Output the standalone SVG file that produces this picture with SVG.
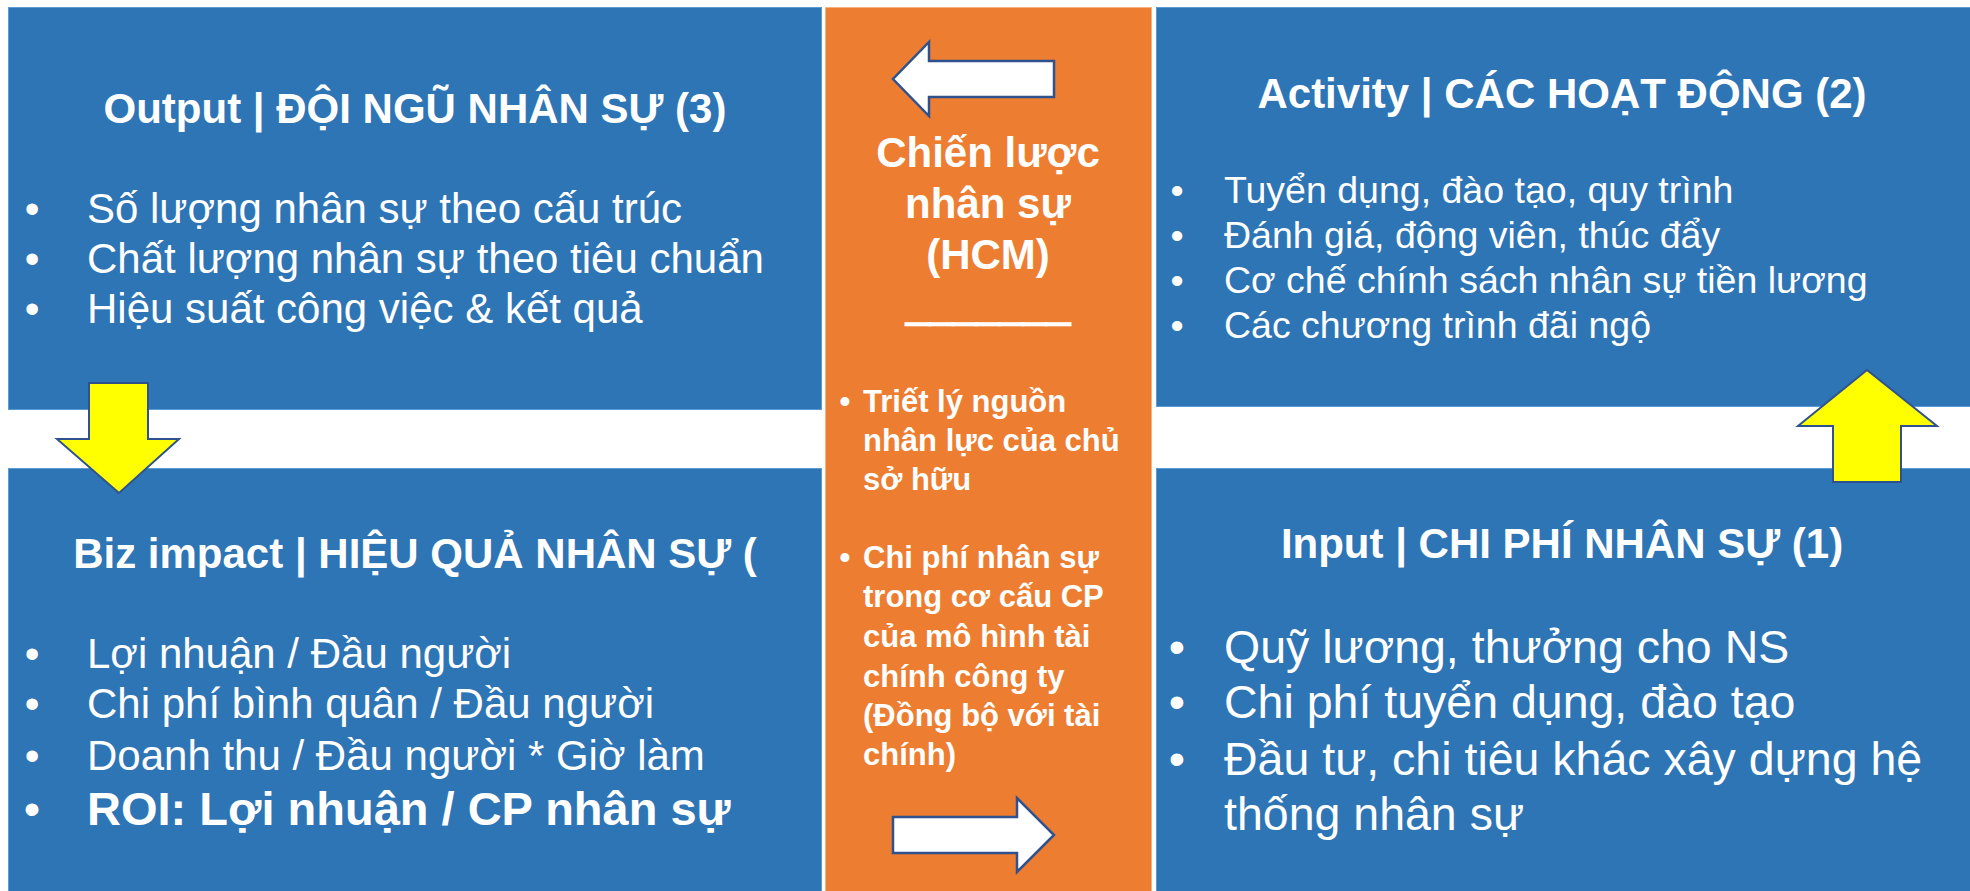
<svg xmlns="http://www.w3.org/2000/svg" width="1970" height="891" viewBox="0 0 1970 891">
<style>
.box{fill:#2E75B6;stroke:#5B9BD5;stroke-width:1}
.mid{fill:#ED7D31;stroke:#F4B183;stroke-width:1}
text{font-family:"Liberation Sans",Arial,sans-serif;fill:#FFFFFF}
.t{font-weight:bold;font-size:42px;text-anchor:middle}
.b{font-size:42px}
.b2{font-size:37.5px}
.b3{font-size:46.5px}
.dot{text-anchor:middle}
.c{font-weight:bold;font-size:42px;text-anchor:middle}
.u{stroke:#FFFFFF;stroke-width:2.5}
.cb{font-weight:bold;font-size:31px}
.ya{fill:#FFFF00;stroke:#2F528F;stroke-width:2}
.wa{fill:#FFFFFF;stroke:#2F528F;stroke-width:2.5}
</style>
<rect width="1970" height="891" fill="#FFFFFF"/>

<g id="output">
<rect class="box" x="8.5" y="7.5" width="813" height="402"/>
<text class="t" x="415" y="123">Output | ĐỘI NGŨ NHÂN SỰ (3)</text>
<text class="b dot" x="32" y="223">•</text><text class="b" x="87" y="223">Số lượng nhân sự theo cấu trúc</text>
<text class="b dot" x="32" y="273">•</text><text class="b" x="87" y="273">Chất lượng nhân sự theo tiêu chuẩn</text>
<text class="b dot" x="32" y="323">•</text><text class="b" x="87" y="323">Hiệu suất công việc &amp; kết quả</text>
</g>

<g id="activity">
<rect class="box" x="1156.5" y="7.5" width="814" height="399"/>
<text class="t" x="1562" y="108">Activity | CÁC HOẠT ĐỘNG (2)</text>
<text class="b2 dot" x="1177" y="203">•</text><text class="b2" x="1224" y="203">Tuyển dụng, đào tạo, quy trình</text>
<text class="b2 dot" x="1177" y="248">•</text><text class="b2" x="1224" y="248">Đánh giá, động viên, thúc đẩy</text>
<text class="b2 dot" x="1177" y="293">•</text><text class="b2" x="1224" y="293">Cơ chế chính sách nhân sự tiền lương</text>
<text class="b2 dot" x="1177" y="338">•</text><text class="b2" x="1224" y="338">Các chương trình đãi ngộ</text>
</g>

<g id="impact">
<rect class="box" x="8.5" y="468.5" width="813" height="430"/>
<text class="t" x="415" y="568">Biz impact | HIỆU QUẢ NHÂN SỰ (</text>
<text class="b dot" x="32" y="668">•</text><text class="b" x="87" y="668">Lợi nhuận / Đầu người</text>
<text class="b dot" x="32" y="718">•</text><text class="b" x="87" y="718">Chi phí bình quân / Đầu người</text>
<text class="b dot" x="32" y="770">•</text><text class="b" x="87" y="770">Doanh thu / Đầu người * Giờ làm</text>
<text class="b dot" x="32" y="825" style="font-size:47px">•</text><text x="87" y="825" style="font-size:47px;font-weight:bold">ROI: Lợi nhuận / CP nhân sự</text>
</g>

<g id="input">
<rect class="box" x="1156.5" y="468.5" width="814" height="430"/>
<text class="t" x="1562" y="558">Input | CHI PHÍ NHÂN SỰ (1)</text>
<text class="b3 dot" x="1177" y="663">•</text><text class="b3" x="1224" y="663">Quỹ lương, thưởng cho NS</text>
<text class="b3 dot" x="1177" y="718">•</text><text class="b3" x="1224" y="718">Chi phí tuyển dụng, đào tạo</text>
<text class="b3 dot" x="1177" y="775">•</text><text class="b3" x="1224" y="775">Đầu tư, chi tiêu khác xây dựng hệ</text>
<text class="b3" x="1224" y="830">thống nhân sự</text>
</g>

<g id="strategy">
<rect class="mid" x="825.5" y="7.5" width="326" height="890"/>
<text class="c" x="988" y="167">Chiến lược</text>
<text class="c" x="988" y="218">nhân sự</text>
<text class="c" x="988" y="269">(HCM)</text>
<text class="c u" x="988" y="320">_______</text>
<text class="cb dot" x="845" y="412">•</text>
<text class="cb" x="863" y="412">Triết lý nguồn</text>
<text class="cb" x="863" y="451">nhân lực của chủ</text>
<text class="cb" x="863" y="490">sở hữu</text>
<text class="cb dot" x="845" y="568">•</text>
<text class="cb" x="863" y="568">Chi phí nhân sự</text>
<text class="cb" x="863" y="607">trong cơ cấu CP</text>
<text class="cb" x="863" y="647">của mô hình tài</text>
<text class="cb" x="863" y="687">chính công ty</text>
<text class="cb" x="863" y="726">(Đồng bộ với tài</text>
<text class="cb" x="863" y="765">chính)</text>
</g>

<g id="connectors">
<polygon class="ya" points="89,383 148,383 148,439 179,439 119,493 57,439 89,439"/>
<polygon class="ya" points="1867,370 1937,426 1901,426 1901,482 1833,482 1833,426 1798,426"/>
<polygon class="wa" points="1054,61 929,61 929,42 893,79 929,116 929,97 1054,97"/>
<polygon class="wa" points="893,817 1017,817 1017,798 1054,835 1017,872 1017,853 893,853"/>
</g>
</svg>
